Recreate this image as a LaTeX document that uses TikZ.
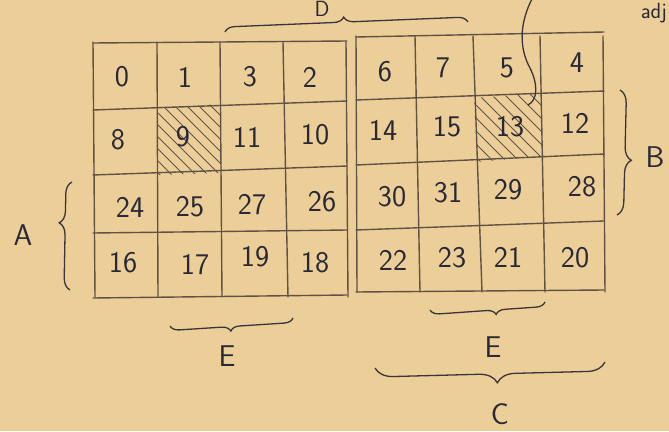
\documentclass[tikz,border=0pt]{standalone}
\usetikzlibrary{decorations.pathreplacing}
\definecolor{paper}{RGB}{236,206,152}
\definecolor{pencil}{RGB}{95,82,70}
\definecolor{ink}{RGB}{40,40,55}
\begin{document}
\begin{tikzpicture}[x=1pt, y=-1pt,
    gridline/.style={pencil, line width=1.4pt, line cap=round},
    num/.style={ink, font=\sffamily\fontsize{30}{30}\selectfont, inner sep=0pt},
    lbl/.style={ink, font=\sffamily\fontsize{30}{30}\selectfont, inner sep=0pt},
    curly/.style={decorate, decoration={brace, aspect=#1}, ink!70!pencil, line width=1.3pt},
    hatch/.style={pencil, line width=0.8pt},
]
\fill[paper] (0,0) rectangle (669,431);
\useasboundingbox (0,0) rectangle (669,431);

% Hatched cells (9 and 13)
\begin{scope}
    \clip (157,108) -- (220,104) -- (221,173) -- (158,175) -- cycle;
    \foreach \k in {-72,-60,...,72} {
        \draw[hatch] (157+\k,100) -- ++(85,85);
    }
\end{scope}
\begin{scope}
    \clip (474,98) -- (541,93) -- (543,156) -- (477,162) -- cycle;
    \foreach \k in {-78,-65,...,78} {
        \draw[hatch] (474+\k,90) -- ++(80,80);
    }
\end{scope}

% Left block
\foreach \xt/\xb in {93/95,157/158,220/222,283/288,346/348} {
    \draw[gridline] (\xt,42) -- (\xb,297);
}
\foreach \yl/\yr in {43/41,110/101,175/166,233/230,298/295} {
    \draw[gridline] (93,\yl) -- (347,\yr);
}
% Right block
\foreach \xt/\xb in {356/357,415/420,473/482,540/545,603/605} {
    \draw[gridline] (\xt,36) -- (\xb,292);
}
\foreach \yl/\yr in {37/32,100/91,165/154,230/221,292/290} {
    \draw[gridline] (356,\yl) -- (604,\yr);
}

% Cell numbers
\foreach \n/\x/\y in {0/122/77,1/185/77,3/250/77,2/310/77,
    8/118/140,9/183/137,11/247/137,10/315/135,
    24/130/207,25/190/207,27/252/205,26/322/202,
    16/123/263,17/195/265,19/255/257,18/315/263} {
    \node[num] (c\n) at (\x,\y) {\n};
}
\foreach \n/\x/\y in {6/385/72,7/443/68,5/507/68,4/577/63,
    14/383/130,15/447/127,13/510/127,12/575/123,
    30/392/197,31/448/193,29/508/190,28/582/187,
    22/393/260,23/452/258,21/508/257,20/575/258} {
    \node[num] (c\n) at (\x,\y) {\n};
}

% Braces
\coordinate (dl) at (225,32);
\coordinate (dr) at (468,22);
\coordinate (bt) at (620,90);
\coordinate (bb) at (617,215);
\coordinate (at) at (72,182);
\coordinate (ab) at (70,290);
\coordinate (el) at (170,326);
\coordinate (er) at (293,318);
\coordinate (fl) at (430,310);
\coordinate (fr) at (545,302);
\coordinate (cl) at (375,368);
\coordinate (cr) at (605,362);
\draw[curly=0.49, decoration={amplitude=10pt}] (dl) -- (dr);
\draw[curly=0.56, decoration={amplitude=13pt}] (bt) -- (bb);
\draw[curly=0.62, decoration={amplitude=12pt}] (ab) -- (at);
\draw[curly=0.51, decoration={amplitude=9pt}] (er) -- (el);
\draw[curly=0.43, decoration={amplitude=9pt}] (fr) -- (fl);
\draw[curly=0.47, decoration={amplitude=18pt}] (cr) -- (cl);

\node[lbl, font=\sffamily\fontsize{22}{22}\selectfont, anchor=north] (D) at (322,1) {D};
\node[lbl] (B) at (655,157) {B};
\node[lbl] (A) at (23,235) {A};
\node[lbl] (E1) at (227,356) {E};
\node[lbl] (E2) at (493,347) {E};
\node[lbl] (C) at (500,414) {C};

% Note pointing at 13
\node[ink, font=\sffamily\fontsize{22}{22}\selectfont, inner sep=0pt, anchor=east] (adj) at (667,13) {adj};
\coordinate (adjstart) at (533,-3);
\coordinate (adjend) at (528,105);
\draw[ink!70!pencil, line width=1.3pt] (adjstart) .. controls (518,25) and (520,50) .. (530,68)
    .. controls (538,84) and (538,100) .. (adjend);
\end{tikzpicture}
\end{document}
